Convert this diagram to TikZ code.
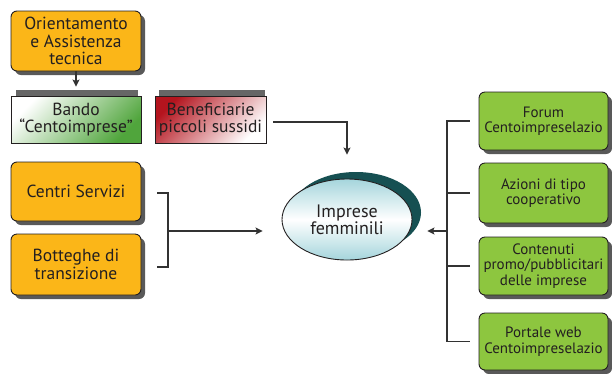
\documentclass[tikz,border=0pt]{standalone}
\usepackage{fontspec}
\setmainfont{PT Sans}
\usetikzlibrary{shapes.geometric,shadows,arrows.meta}
\definecolor{orangef}{RGB}{251,182,24}
\definecolor{greenf}{RGB}{141,198,63}
\definecolor{bandog}{RGB}{80,165,60}
\definecolor{benr}{RGB}{180,20,30}
\definecolor{tealsh}{RGB}{22,80,82}
\definecolor{tealf}{RGB}{165,213,220}
\definecolor{txt}{RGB}{35,31,32}
\definecolor{ln}{RGB}{50,50,50}
\tikzset{
  box/.style={draw=txt, line width=0.9pt, rounded corners=6pt, align=center, inner sep=2pt,
    text=txt, drop shadow={shadow xshift=4pt, shadow yshift=-4pt, fill=black!65, opacity=1}},
  obox/.style={box, fill=orangef, minimum width=130pt, font=\fontsize{17.5}{17.5}\selectfont},
  gbox/.style={box, fill=greenf, minimum width=129pt, font=\fontsize{15}{15.5}\selectfont},
  sqbox/.style={draw=txt, line width=0.9pt, align=center, inner sep=2pt, text=txt,
    font=\fontsize{17.5}{17.5}\selectfont, minimum height=47pt},
  conn/.style={draw=ln, line width=1.1pt},
  arr/.style={conn, -{Stealth[length=7pt,width=7pt,inset=1.5pt]}}
}
\begin{document}
\begin{tikzpicture}[x=1pt,y=-1pt]
\useasboundingbox (0,0) rectangle (612,373);
% left column
\node[obox, minimum height=60pt] (ori) at (76,41) {Orientamento\\e Assistenza\\tecnica};
\fill[black!60] (16,90) rectangle (138,100);
\fill[black!60] (159,90) rectangle (265,100);
\node[sqbox, minimum width=130pt, left color=white, right color=bandog, shading angle=45] (bando) at (76,119.5) {Bando\\“Centoimprese”};
\node[sqbox, minimum width=111pt, left color=benr, right color=white, shading angle=45] (ben) at (210.5,119.5) {Beneficiarie\\piccoli sussidi};
\node[obox, minimum height=59pt] (cs) at (76,191.5) {Centri Servizi};
\node[obox, minimum height=61pt] (bt) at (76,264.5) {Botteghe di\\transizione};
% center ellipse
\node[ellipse, draw=txt, line width=0.9pt, minimum width=130pt, minimum height=81pt, inner sep=0pt,
  top color=tealf, bottom color=tealf, middle color=white, text=txt,
  align=center, font=\fontsize{18}{17}\selectfont,
  drop shadow={shadow xshift=9pt, shadow yshift=7pt, fill=tealsh, opacity=1}] (imp) at (347,219.5) {Imprese\\femminili};
% right column
\node[gbox, minimum height=58pt] (g1) at (543.5,121) {Forum\\Centoimpreselazio};
\node[gbox, minimum height=60pt] (g2) at (543.5,193) {Azioni di tipo\\cooperativo};
\node[gbox, minimum height=58pt] (g3) at (543.5,266) {Contenuti\\promo/pubblicitari\\delle imprese};
\node[gbox, minimum height=57pt] (g4) at (543.5,341.5) {Portale web\\Centoimpreselazio};
% connectors
\draw[arr, shorten >=9pt] (ori.south) -- (bando.north);
\draw[arr] ([xshift=7pt,yshift=-2.5pt]ben.east) -| ([yshift=24pt]imp.north);
\coordinate (lt) at ([xshift=16pt,yshift=-1.5pt]cs.east);
\coordinate (lb) at ([xshift=16pt,yshift=-2.5pt]bt.east);
\coordinate (lm) at (168,231);
\draw[conn] (lt) -- (lt -| lm) -- (lb -| lm) -- (lb);
\draw[arr, shorten >=19pt] (lm) -- (lm -| imp.west);
\coordinate (r1) at ([xshift=-9pt]g1.west);
\coordinate (r4) at ([xshift=-9pt]g4.west);
\coordinate (rm) at (447,231);
\draw[conn] (r1) -- (r1 -| rm) -- (r4 -| rm) -- (r4);
\draw[conn] ([xshift=-9pt]g2.west) -- (g2.west -| rm);
\draw[conn] ([xshift=-9pt]g3.west) -- (g3.west -| rm);
\draw[arr, shorten >=15pt] (rm) -- (rm -| imp.east);
\end{tikzpicture}
\end{document}
